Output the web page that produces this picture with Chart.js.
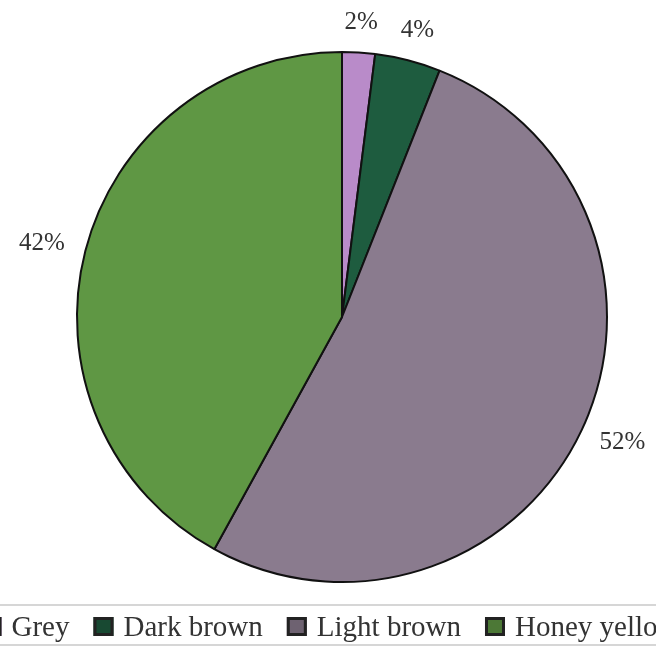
<!DOCTYPE html>
<html>
<head>
<meta charset="utf-8">
<style>
  html, body { margin: 0; padding: 0; background: #ffffff; overflow: hidden; }
  #wrap { width: 656px; height: 649px; position: relative; }
</style>
<script src="https://cdn.jsdelivr.net/npm/chart.js@4/dist/chart.umd.min.js"></script>
</head>
<body>
<div id="wrap"><canvas id="c" width="656" height="649"></canvas></div>
<script>
// Colour categories and their share (%)
const categories = ['Grey', 'Dark brown', 'Light brown', 'Honey yellow'];
const shares = [2, 4, 52, 42];
const sliceColors = ['#b98bc9', '#1e5c3f', '#8a7b8e', '#5f9744'];

const SERIF = '"Liberation Serif", "Times New Roman", serif';

// Percentage labels placed just outside each slice
const outsideLabels = {
  id: 'outsideLabels',
  afterDatasetsDraw(chart) {
    const ctx = chart.ctx;
    const meta = chart.getDatasetMeta(0);
    ctx.save();
    ctx.font = '25px ' + SERIF;
    ctx.fillStyle = '#333333';
    ctx.textAlign = 'center';
    ctx.textBaseline = 'middle';
    meta.data.forEach((arc, i) => {
      const p = arc.getProps(['x', 'y', 'startAngle', 'endAngle', 'outerRadius'], true);
      const mid = (p.startAngle + p.endAngle) / 2;
      const text = shares[i] + '%';
      const w = ctx.measureText(text).width;
      const h = 17;
      const R = p.outerRadius + 22;
      const cx = p.x + Math.cos(mid) * R + Math.cos(mid) * w / 2;
      const cy = p.y + Math.sin(mid) * R + Math.sin(mid) * h / 2;
      ctx.fillText(text, cx, cy);
    });
    ctx.restore();
  }
};

// Single-row legend along the bottom, centred and allowed to run past the edges
const bottomLegend = {
  id: 'bottomLegend',
  afterDraw(chart) {
    const ctx = chart.ctx;
    const centerX = 330;
    const baseY = 636;
    const sw = 20, sh = 19, gapText = 10, gapItem = 24;
    ctx.save();
    ctx.font = '29px ' + SERIF;
    const widths = categories.map(c => ctx.measureText(c).width);
    let total = 0;
    widths.forEach((w, i) => { total += sw + gapText + w + (i < widths.length - 1 ? gapItem : 0); });

    // legend frame
    ctx.strokeStyle = '#d6d6d6';
    ctx.lineWidth = 2;
    ctx.strokeRect(centerX - total / 2 - 14, 605, total + 28, 40);

    let x = centerX - total / 2;
    categories.forEach((c, i) => {
      ctx.fillStyle = sliceColors[i];
      ctx.fillRect(x, baseY - sh, sw, sh);
      ctx.fillStyle = 'rgba(0,0,0,0.2)';
      ctx.fillRect(x, baseY - sh, sw, sh);
      ctx.strokeStyle = '#222';
      ctx.lineWidth = 3;
      ctx.strokeRect(x + 1.5, baseY - sh + 1.5, sw - 3, sh - 3);
      x += sw + gapText;
      ctx.fillStyle = '#333333';
      ctx.textAlign = 'left';
      ctx.textBaseline = 'alphabetic';
      ctx.fillText(c, x, baseY);
      x += widths[i] + gapItem;
    });
    ctx.restore();
  }
};

new Chart(document.getElementById('c'), {
  type: 'pie',
  data: {
    labels: categories,
    datasets: [{
      data: shares,
      backgroundColor: sliceColors,
      borderColor: '#111111',
      borderWidth: 2
    }]
  },
  options: {
    responsive: false,
    animation: false,
    layout: { padding: { left: 76, right: 48, top: 51, bottom: 66 } },
    plugins: {
      legend: { display: false },
      tooltip: { enabled: false }
    }
  },
  plugins: [outsideLabels, bottomLegend]
});
</script>
</body>
</html>
